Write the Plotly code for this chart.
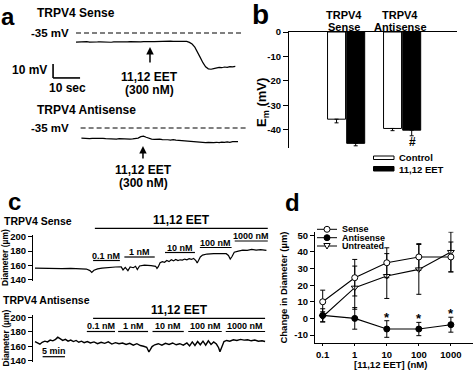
import math
import plotly.graph_objects as go

W, H = 474, 370
FONT = "Liberation Sans, Arial, sans-serif"

# ---------------- data ----------------
# panel a : membrane potential traces (s, mV)
a_sense_time = list(range(0, 60))
a_sense_mv = [-41.5, -41.3, -41.6, -41.4, -41.2, -41.5, -41.3, -41.6, -41.4, -41.3,
              -41.5, -41.2, -41.4, -41.6, -41.3, -41.4, -41.2, -41.5, -41.3, -41.4,
              -41.1, -41.3, -41.0, -41.2, -41.4, -41.1, -41.3, -41.0, -41.2, -41.1,
              -41.0, -41.2, -40.9, -41.1, -41.0, -40.8, -41.0, -40.9, -41.1, -40.9,
              -40.8, -41.0, -41.7, -42.9, -45.1, -48.3, -52.4, -56.2, -59.1, -60.6,
              -60.9, -60.4, -60.0, -59.6, -59.8, -59.3, -59.5, -59.0, -59.2, -58.8]
a_anti_time = list(range(2, 61))
a_anti_mv = [-42.3, -42.5, -42.2, -42.6, -42.4, -42.3, -42.7, -42.5, -42.4,
             -42.6, -42.8, -42.5, -42.7, -42.9, -42.6, -42.8, -43.0, -42.7, -42.9,
             -42.8, -42.6, -42.2, -41.2, -40.8, -41.6, -42.5, -42.9, -43.1, -42.8,
             -43.0, -43.3, -43.1, -43.4, -43.6, -43.3, -43.7, -43.9, -44.1, -43.8,
             -44.2, -44.4, -44.6, -44.9, -45.1, -45.4, -45.2, -45.5, -45.3, -45.6,
             -45.4, -45.2, -45.5, -45.1, -45.3, -44.9, -45.2, -44.8, -45.0, -44.8]
a_rest_mv = -35
a_eet_sense_t = 27.4
a_eet_anti_t = 24.8

# panel b : Em bars
b_groups = ["TRPV4 Sense", "TRPV4 Antisense"]
b_control = [-35.7, -39.5]
b_control_err = [1.5, 0.9]
b_eet = [-45.6, -40.2]
b_eet_err = [1.0, 2.3]
b_marks = ["*", "#"]
b_yticks = [0, -10, -20, -30, -40]

# panel c : diameter traces (min, um)
c_sense_time = [0, 2, 4, 6, 8, 10, 11.5, 12.3, 12.7, 13.2,
                14, 15, 16.5, 18, 19.3, 19.7, 20.2, 20.8, 21.3, 22,
                22.5, 22.9, 23.4, 24.5, 26, 27, 27.3, 27.6, 28.0, 28.5,
                29.0, 29.5, 30.0, 30.5, 31.0, 31.5, 32.0, 32.5, 33.0, 33.5,
                34.0, 34.5, 35.0, 35.5, 36.0, 36.3, 36.6, 37.0, 37.5, 38.5,
                40, 41.5, 42.8, 43.3, 43.7, 44.1, 44.6, 45.5, 46.5, 47.5,
                48.5, 49.5, 50.5, 51.8]
c_sense_diam = [156.5, 156.0, 156.3, 155.8, 156.0, 155.6, 155.2, 153.0, 150.5, 153.5,
                155.5, 156.5, 157.5, 158.0, 158.2, 154.0, 157.5, 153.0, 158.0, 157.0,
                159.0, 154.5, 159.5, 160.5, 160.0, 159.0, 156.0, 158.5, 164.0, 165.5,
                164.5, 167.0, 165.5, 168.0, 166.5, 168.5, 167.0, 168.0, 167.5, 169.0,
                168.0, 169.5, 168.5, 170.0, 167.0, 163.5, 167.0, 172.0, 174.5, 176.0,
                176.5, 176.0, 176.5, 174.0, 169.0, 172.5, 178.5, 180.0, 181.5, 181.0,
                182.5, 181.5, 182.0, 181.0]
c_anti_time = [0, 0.6, 1.1, 1.6, 2.2, 2.8, 3.4, 4.0, 4.6, 5.1,
               5.6, 6.2, 6.8, 7.4, 8.0, 8.6, 9.2, 9.8, 10.4, 11.0,
               11.7, 12.4, 13.2, 14.0, 14.8, 15.6, 16.4, 17.2, 18.0, 18.8,
               19.6, 20.4, 21.2, 22.0, 22.8, 23.6, 24.3, 25.0, 25.5, 25.8,
               26.2, 26.8, 27.6, 28.4, 29.2, 30.0, 30.8, 31.6, 32.4, 33.2,
               34.0, 34.6, 35.2, 35.8, 36.4, 37.0, 37.6, 38.2, 38.8, 39.4,
               40.0, 40.6, 41.1, 41.4, 41.8, 42.3, 42.9, 43.6, 44.4, 45.2,
               46.0, 46.8, 47.6, 48.4, 49.2, 50.0, 50.8, 51.5]
c_anti_diam = [166.5, 165.0, 162.8, 165.5, 167.0, 166.0, 168.5, 167.5, 169.5, 172.5,
               170.0, 168.0, 169.5, 167.0, 168.5, 166.5, 168.0, 165.5, 167.0, 165.0,
               166.5, 164.5, 166.0, 163.5, 165.5, 164.0, 166.0, 163.0, 165.0, 163.5,
               164.5, 162.5, 164.0, 161.5, 163.5, 161.0, 160.0, 158.5, 152.0, 155.5,
               159.5, 162.0, 163.5, 161.5, 164.0, 162.5, 164.5, 162.0, 163.5, 161.5,
               164.5, 160.5, 166.0, 161.0, 166.5, 162.0, 167.0, 161.5, 167.5, 162.5,
               166.0, 163.0, 158.0, 152.5, 160.0, 166.5, 168.0, 167.0, 169.0, 168.0,
               169.5, 168.5, 169.0, 167.5, 168.5, 167.0, 167.5, 166.5]
c_doses = ["0.1 nM", "1 nM", "10 nM", "100 nM", "1000 nM"]
c_sense_dose_start = [13.0, 20.0, 29.1, 36.9, 44.7]
c_sense_dose_end = [19.0, 26.8, 35.8, 44.0, 52.1]
c_anti_dose_start = [11.6, 18.6, 26.3, 34.3, 42.7]
c_anti_dose_end = [17.9, 25.3, 33.3, 41.8, 51.5]
c_sense_eet = [13.4, 52.1]
c_anti_eet = [13.0, 51.5]
c_scale_min = 5
c_yticks = [140, 160, 180, 200]

# panel d : change in diameter
d_conc = [0.1, 1, 10, 100, 1000]
d_conc_labels = ["0.1", "1", "10", "100", "1000"]
d_sense = [10, 24.5, 33.5, 37, 37]
d_sense_err = [7, 11, 9, 8, 9]
d_anti = [1.8, 0, -6.4, -6.4, -3.8]
d_anti_err = [4, 6.5, 5, 4, 4.5]
d_untreated = [1.0, 18.5, 25.5, 29.5, 40]
d_untreated_err = [3, 13, 13.5, 15, 12]
d_sig = [False, False, True, True, True]
d_yticks = [-10, 0, 10, 20, 30, 40, 50]

# ---------------- helpers ----------------
def dx(x0, x1):
    return [x0 / W, x1 / W]

def dy(y0, y1):  # y0 top pixel, y1 bottom pixel
    return [1 - y1 / H, 1 - y0 / H]

def PX(x):
    return x / W

def PY(y):
    return 1 - y / H

def f(size, color="black"):
    return dict(family=FONT, size=size, color=color, weight="bold")

annotations = []
shapes = []

def ann(text, x, y, size, xanchor="center", **kw):
    d = dict(text=text, x=PX(x), y=PY(y), xref="paper", yref="paper",
             showarrow=False, font=f(size), xanchor=xanchor, yanchor="middle")
    d.update(kw)
    annotations.append(d)

def pline(x0, y0, x1, y1, width=1.2, dash=None):
    shapes.append(dict(type="line", xref="paper", yref="paper",
                       x0=PX(x0), y0=PY(y0), x1=PX(x1), y1=PY(y1),
                       line=dict(color="black", width=width, dash=dash)))

fig = go.Figure()
blk = dict(color="black", width=1.2)

# ---------------- panel a ----------------
fig.add_trace(go.Scatter(x=a_sense_time, y=a_sense_mv, mode="lines", line=blk,
                         xaxis="x", yaxis="y", showlegend=False))
fig.add_trace(go.Scatter(x=a_anti_time, y=a_anti_mv, mode="lines", line=blk,
                         xaxis="x2", yaxis="y2", showlegend=False))
shapes.append(dict(type="line", xref="x", yref="y", x0=0, x1=61.9, y0=a_rest_mv, y1=a_rest_mv,
                   line=dict(color="black", width=1.2, dash="5px,3px")))
shapes.append(dict(type="line", xref="x2", yref="y2", x0=1.7, x1=63.7, y0=a_rest_mv, y1=a_rest_mv,
                   line=dict(color="black", width=1.2, dash="5px,3px")))
# scale bar 10 mV / 10 s
sb_t, sb_v = -8.5, -67.1
shapes.append(dict(type="line", xref="x", yref="y", x0=sb_t, x1=sb_t, y0=sb_v, y1=sb_v + 10,
                   line=dict(color="black", width=1.6)))
shapes.append(dict(type="line", xref="x", yref="y", x0=sb_t, x1=sb_t + 10, y0=sb_v, y1=sb_v,
                   line=dict(color="black", width=1.6)))
annotations.append(dict(x=a_eet_sense_t, y=-45, xref="x", yref="y", ax=0, ay=17, text="",
                        showarrow=True, arrowhead=2, arrowsize=1, arrowwidth=1.5, arrowcolor="black"))
annotations.append(dict(x=a_eet_anti_t, y=-47.9, xref="x2", yref="y2", ax=0, ay=14, text="",
                        showarrow=True, arrowhead=2, arrowsize=1, arrowwidth=1.5, arrowcolor="black"))
ann("a", 7.5, 17, 24)
ann("TRPV4 Sense", 35, 13, 12, xanchor="left")
ann("-35 mV", 71, 33, 11.5, xanchor="right")
ann("10 mV", 49, 70, 12, xanchor="right")
ann("10 sec", 67, 88, 12)
ann("11,12 EET", 149, 77, 12)
ann("(300 nM)", 149, 90, 12)
ann("TRPV4 Antisense", 35, 110, 12, xanchor="left")
ann("-35 mV", 71, 128, 11.5, xanchor="right")
ann("11,12 EET", 143, 170, 12)
ann("(300 nM)", 143, 183, 12)

# ---------------- panel b ----------------
fig.add_trace(go.Bar(x=b_groups, y=b_control, name="Control", xaxis="x3", yaxis="y3",
                     marker=dict(color="white", line=dict(color="black", width=1)),
                     error_y=dict(type="data", symmetric=False, array=[0, 0], arrayminus=b_control_err,
                                  color="black", thickness=1, width=2),
                     showlegend=False))
fig.add_trace(go.Bar(x=b_groups, y=b_eet, name="11,12 EET", xaxis="x3", yaxis="y3",
                     marker=dict(color="black", line=dict(color="black", width=1)),
                     error_y=dict(type="data", symmetric=False, array=[0, 0], arrayminus=b_eet_err,
                                  color="black", thickness=1, width=2),
                     showlegend=False))
for g, v, e, m in zip(b_groups, b_eet, b_eet_err, b_marks):
    annotations.append(dict(x=g, y=v - e - 2.7, xref="x3", yref="y3", text=m, showarrow=False,
                            xshift=10, font=f(12), yanchor="middle"))
ann("b", 260, 14, 28)
ann("TRPV4", 344, 15, 11)
ann("Sense", 344, 27, 11)
ann("TRPV4", 400, 15, 11)
ann("Antisense", 400, 27, 11)
ann("E<sub>m</sub> (mV)", 262, 103, 13, textangle=-90)
shapes.append(dict(type="rect", xref="paper", yref="paper", x0=PX(373.5), x1=PX(394),
                   y0=PY(159.5), y1=PY(156), fillcolor="white", line=dict(color="black", width=1)))
shapes.append(dict(type="rect", xref="paper", yref="paper", x0=PX(373.5), x1=PX(394),
                   y0=PY(171), y1=PY(166.5), fillcolor="black", line=dict(color="black", width=1)))
ann("Control", 397, 157.7, 9.5, xanchor="left")
ann("11,12 EET", 397, 169, 9.5, xanchor="left")

# ---------------- panel c ----------------
fig.add_trace(go.Scatter(x=c_sense_time, y=c_sense_diam, mode="lines", line=blk,
                         xaxis="x4", yaxis="y4", showlegend=False))
fig.add_trace(go.Scatter(x=c_anti_time, y=c_anti_diam, mode="lines", line=dict(color="black", width=1.4),
                         xaxis="x5", yaxis="y5", showlegend=False))
ann("c", 14, 201, 24)
ann("TRPV4 Sense", 2, 220.5, 10.5, xanchor="left")
ann("TRPV4 Antisense", 1, 300, 10.5, xanchor="left")
ann("Diameter (µm)", 5, 258, 8.5, textangle=-90)
ann("Diameter (µm)", 5, 338.5, 8.5, textangle=-90)

def eet_block(xref, eet, starts, ends, head_y, line_y, lab_y, ul_y):
    shapes.append(dict(type="line", xref=xref, yref="paper", x0=eet[0], x1=eet[1],
                       y0=PY(line_y), y1=PY(line_y), line=dict(color="black", width=1.2)))
    annotations.append(dict(x=(eet[0] + eet[1]) / 2, y=PY(head_y), xref=xref, yref="paper",
                            text="11,12 EET", showarrow=False, font=f(12), yanchor="middle"))
    for d, s, e, ly, uy in zip(c_doses, starts, ends, lab_y, ul_y):
        shapes.append(dict(type="line", xref=xref, yref="paper", x0=s, x1=e,
                           y0=PY(uy), y1=PY(uy), line=dict(color="black", width=1.2)))
        annotations.append(dict(x=(s + e) / 2, y=PY(ly), xref=xref, yref="paper", text=d,
                                showarrow=False, font=f(9), yanchor="middle"))

eet_block("x4", c_sense_eet, c_sense_dose_start, c_sense_dose_end, 220, 228.3,
          [255.5, 252, 247.5, 242.5, 236], [260.5, 257, 252.5, 247.5, 241])
eet_block("x5", c_anti_eet, c_anti_dose_start, c_anti_dose_end, 310, 318.3,
          [325.5] * 5, [331.5] * 5)
shapes.append(dict(type="line", xref="x5", yref="paper", x0=1.7, x1=1.7 + c_scale_min,
                   y0=PY(356.7), y1=PY(356.7), line=dict(color="black", width=1.2)))
annotations.append(dict(x=1.7 + c_scale_min / 2, y=PY(351), xref="x5", yref="paper", text="5 min",
                        showarrow=False, font=f(9), yanchor="middle"))

# ---------------- panel d ----------------
def dtrace(y, err, symbol, fill):
    fig.add_trace(go.Scatter(x=d_conc, y=y, mode="lines+markers", xaxis="x6", yaxis="y6",
                             line=dict(color="black", width=1.1),
                             marker=dict(symbol=symbol, size=6, color=fill,
                                         line=dict(color="black", width=1)),
                             error_y=dict(type="data", array=err, color="black", thickness=1, width=2.5),
                             showlegend=False))

dtrace(d_untreated, d_untreated_err, "triangle-down", "white")
dtrace(d_sense, d_sense_err, "circle", "white")
dtrace(d_anti, d_anti_err, "circle", "black")
for c, v, e, s in zip(d_conc, d_anti, d_anti_err, d_sig):
    if s:
        annotations.append(dict(x=math.log10(c), y=v + e + 2.2, xref="x6", yref="y6", text="*",
                                showarrow=False, font=f(13), yanchor="middle"))
ann("d", 292, 202, 24)
ann("[11,12 EET] (nM)", 390, 364, 9.5)
leg = [("Sense", 229.3, "circle", "white"), ("Antisense", 237.7, "circle", "black"),
       ("Untreated", 246, "tri", "white")]
for name, yy, sym, fill in leg:
    pline(317, yy, 337, yy, width=1)
    if sym == "circle":
        shapes.append(dict(type="circle", xref="paper", yref="paper", x0=PX(324), x1=PX(330),
                           y0=PY(yy + 3), y1=PY(yy - 3), fillcolor=fill,
                           line=dict(color="black", width=1)))
    else:
        path = "M {} {} L {} {} L {} {} Z".format(PX(323.8), PY(yy - 2.5), PX(330.2), PY(yy - 2.5),
                                                  PX(327), PY(yy + 3))
        shapes.append(dict(type="path", xref="paper", yref="paper", path=path, fillcolor=fill,
                           line=dict(color="black", width=1)))
    ann(name, 340, yy, 9, xanchor="left")

# ---------------- layout ----------------
hidden = dict(visible=False, showgrid=False, zeroline=False)
c_y = dict(showline=True, linecolor="black", linewidth=1.2, ticks="outside", ticklen=4,
           tickwidth=1.2, tickcolor="black", tickmode="array", tickvals=c_yticks,
           ticktext=[str(v) for v in c_yticks], tickfont=f(9.5),
           showgrid=False, zeroline=False)
fig.update_layout(
    width=W, height=H, margin=dict(l=0, r=0, t=0, b=0, autoexpand=False),
    paper_bgcolor="white", plot_bgcolor="rgba(0,0,0,0)",
    font=dict(family=FONT, color="black"),
    showlegend=False,
    barmode="group", bargap=0.316, bargroupgap=0.06,
    xaxis=dict(domain=dx(0, 250), range=[-28.15, 64.44], anchor="y", **hidden),
    yaxis=dict(domain=dy(0, 100), range=[-82.86, -11.43], anchor="x", **hidden),
    xaxis2=dict(domain=dx(0, 250), range=[-28.15, 64.44], anchor="y2", **hidden),
    yaxis2=dict(domain=dy(95, 190), range=[-79.29, -11.43], anchor="x2", **hidden),
    xaxis3=dict(domain=dx(289, 457), type="category", range=[-1.02, 1.98], anchor="y3",
                side="top", showline=True, linecolor="black", linewidth=1.2, ticks="",
                showticklabels=False, showgrid=False, zeroline=False),
    yaxis3=dict(domain=dy(32, 148), range=[-47.5, 0], anchor="x3", showline=True,
                linecolor="black", linewidth=1.2, ticks="outside", ticklen=5, tickwidth=1.2,
                tickcolor="black", tickmode="array", tickvals=b_yticks,
                ticktext=[str(v) for v in b_yticks], tickfont=f(9.5),
                showgrid=False, zeroline=False),
    xaxis4=dict(domain=dx(33, 270), range=[-0.45, 52.6], anchor="y4", **hidden),
    yaxis4=dict(domain=dy(235, 281), range=[138.6, 202.4], anchor="x4", **c_y),
    xaxis5=dict(domain=dx(33, 270), range=[-0.45, 52.6], anchor="y5", **hidden),
    yaxis5=dict(domain=dy(315, 362), range=[138.2, 203.2], anchor="x5", **c_y),
    xaxis6=dict(domain=dx(315, 473), type="log", range=[-1.24, 3.69], anchor="y6",
                showline=True, linecolor="black", linewidth=1.2, ticks="outside", ticklen=2,
                tickwidth=1.2, tickcolor="black", tickmode="array", tickvals=d_conc,
                ticktext=d_conc_labels, tickfont=f(9.5), showgrid=False, zeroline=False),
    yaxis6=dict(domain=dy(231.7, 343.3), range=[-15, 52.2], anchor="x6", showline=True,
                linecolor="black", linewidth=1.2, ticks="outside", ticklen=4, tickwidth=1.2,
                tickcolor="black", tickmode="array", tickvals=d_yticks,
                ticktext=[str(v) for v in d_yticks], tickfont=f(9.5),
                ticklabeloverflow="allow",
                title=dict(text="Change in Diameter (µm)", font=f(9.5), standoff=4),
                showgrid=False, zeroline=False),
    annotations=annotations, shapes=shapes,
)
fig.write_html("out.html", config={"displayModeBar": False},
               post_script="document.body.style.margin='0';document.body.style.padding='0';")
